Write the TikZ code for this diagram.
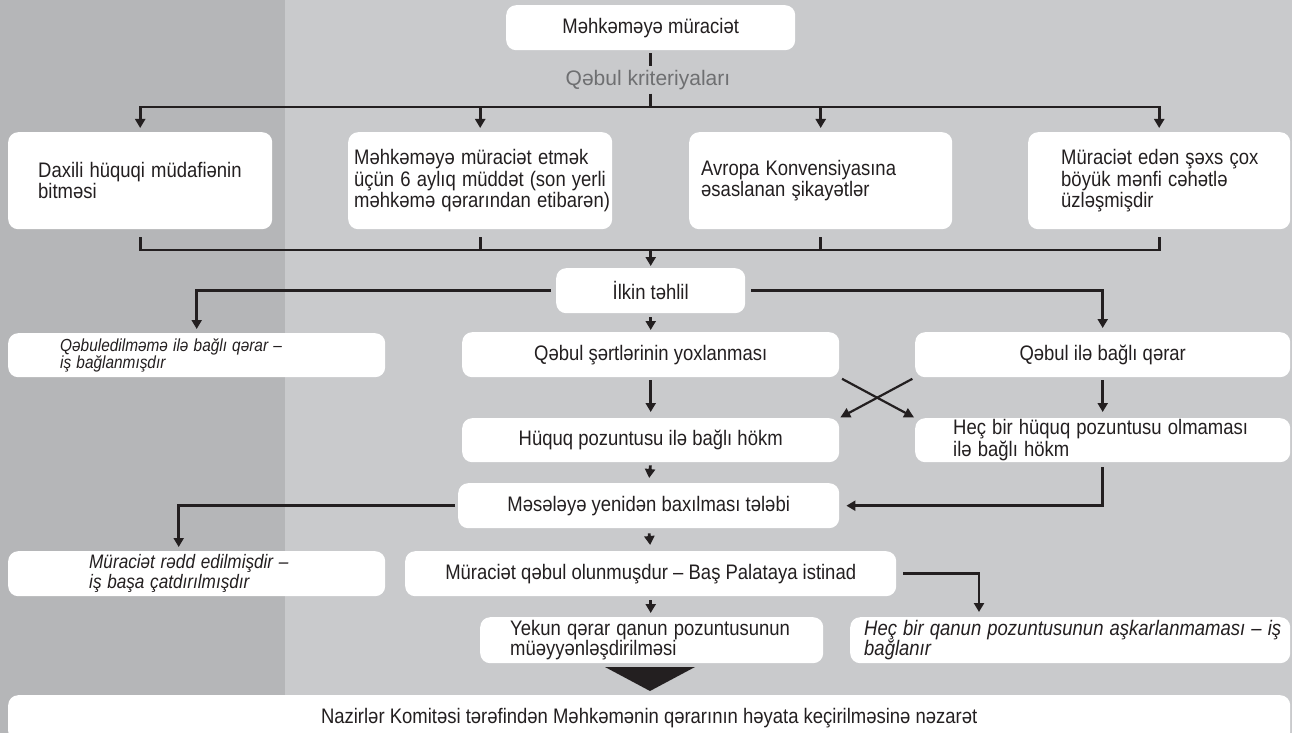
\documentclass[tikz,border=0pt]{standalone}
\usepackage{fontspec}
\usepackage{graphicx}
\setmainfont{Liberation Sans}
\usetikzlibrary{arrows.meta,calc}
\definecolor{darkbg}{RGB}{181,182,184}
\definecolor{lightbg}{RGB}{201,202,204}
\definecolor{ink}{RGB}{35,31,32}
\definecolor{labelgray}{RGB}{110,111,113}
\newcommand\lnbox[1]{\scalebox{0.88}[1]{#1}}
\begin{document}
\begin{tikzpicture}[x=1pt,y=-1pt,
  box/.style={fill=white, rounded corners=10pt, inner xsep=0pt, inner ysep=0pt, anchor=north west,
    font=\fontsize{21}{21.5}\selectfont, text=ink, align=center},
  lbox/.style={box, align=left},
  conn/.style={draw=ink, line width=2.8pt},
  arr/.style={conn, -{Triangle[width=10pt,length=9pt]}},
  darr/.style={conn, {Triangle[width=10pt,length=9pt]}-{Triangle[width=10pt,length=9pt]}},
  xarr/.style={draw=ink, line width=2.2pt, -{Triangle[width=10pt,length=10pt]}}
]
\useasboundingbox (0,0) rectangle (1292,733);
\fill[darkbg] (0,0) rectangle (285,733);
\fill[lightbg] (285,0) rectangle (1292,733);

% nodes
\node[box, minimum width=289pt, minimum height=45pt] (top) at (506,5) {\lnbox{Məhkəməyə müraciət}};
\node[inner sep=0pt, minimum height=27pt, text=labelgray, font=\fontsize{21}{22}\selectfont] (crit) at (648,80) {Qəbul kriteriyaları};

\node[lbox, minimum width=264pt, minimum height=97pt, text width=204pt] (c1) at (8,132)
  {\lnbox{Daxili hüquqi müdafiənin}\\\lnbox{bitməsi}};
\node[lbox, minimum width=264pt, minimum height=97pt, text width=252pt] (c2) at (348,132)
  {\lnbox{Məhkəməyə müraciət etmək}\\\lnbox{üçün 6 aylıq müddət (son yerli}\\\lnbox{məhkəmə qərarından etibarən)}};
\node[lbox, minimum width=263pt, minimum height=97pt, text width=239pt] (c3) at (689,132)
  {\lnbox{Avropa Konvensiyasına}\\\lnbox{əsaslanan şikayətlər}};
\node[lbox, minimum width=262pt, minimum height=97pt, text width=196pt] (c4) at (1028,132)
  {\lnbox{Müraciət edən şəxs çox}\\\lnbox{böyük mənfi cəhətlə}\\\lnbox{üzləşmişdir}};

\node[box, minimum width=189pt, minimum height=45pt] (ilkin) at (556,268) {\lnbox{İlkin təhlil}};

\node[lbox, minimum width=377pt, minimum height=44pt, text width=273pt, font=\fontsize{17.5}{17}\selectfont\itshape] (rej1) at (8,333)
  {\lnbox{Qəbuledilməmə ilə bağlı qərar –}\\\lnbox{iş bağlanmışdır}};
\node[box, minimum width=377pt, minimum height=45pt] (check) at (462,332) {\lnbox{Qəbul şərtlərinin yoxlanması}};
\node[box, minimum width=375pt, minimum height=45pt] (admd) at (915,332) {\lnbox{Qəbul ilə bağlı qərar}};

\node[box, minimum width=377pt, minimum height=44pt] (viol) at (462,418) {\lnbox{Hüquq pozuntusu ilə bağlı hökm}};
\node[lbox, minimum width=375pt, minimum height=44pt, text width=299pt] (noviol) at (915,418)
  {\lnbox{Heç bir hüquq pozuntusu olmaması}\\\lnbox{ilə bağlı hökm}};

\node[box, minimum width=381pt, minimum height=45pt] (req) at (458,483) {\lnbox{Məsələyə yenidən baxılması tələbi}};

\node[lbox, minimum width=377pt, minimum height=45pt, text width=215pt, font=\fontsize{19.5}{20}\selectfont\itshape] (rej2) at (8,551)
  {\lnbox{Müraciət rədd edilmişdir –}\\\lnbox{iş başa çatdırılmışdır}};
\node[box, minimum width=491pt, minimum height=45pt] (acc) at (405,551) {\lnbox{Müraciət qəbul olunmuşdur – Baş Palataya istinad}};

\node[lbox, minimum width=343pt, minimum height=46pt, text width=283pt, font=\fontsize{21}{20.5}\selectfont] (final) at (480,617)
  {\lnbox{Yekun qərar qanun pozuntusunun}\\\lnbox{müəyyənləşdirilməsi}};
\node[lbox, minimum width=440pt, minimum height=46pt, text width=412pt, font=\fontsize{21}{20.5}\selectfont\itshape] (nolaw) at (850,617)
  {\lnbox{Heç bir qanun pozuntusunun aşkarlanmaması – iş}\\\lnbox{bağlanır}};

\node[box, minimum width=1282pt, minimum height=46pt] (bottom) at (8,695)
  {\lnbox{Nazirlər Komitəsi tərəfindən Məhkəmənin qərarının həyata keçirilməsinə nəzarət}};

% connectors
\coordinate (hubT) at (top.south |- 0,107);
\coordinate (hubB) at (top.south |- 0,250);
\draw[conn, shorten <=3pt] (top.south) -- (top.south |- crit.north);
\draw[conn] (top.south |- crit.south) -- (hubT);
\draw[darr, shorten <=4pt, shorten >=4pt] (c1.north) -- (c1.north |- hubT) -- (c4.north |- hubT) -- (c4.north);
\draw[arr, shorten >=4pt] (c2.north |- hubT) -- (c2.north);
\draw[arr, shorten >=4pt] (c3.north |- hubT) -- (c3.north);

\draw[conn, shorten <=8pt, shorten >=8pt] (c1.south) -- (c1.south |- hubB) -- (c4.south |- hubB) -- (c4.south);
\draw[conn, shorten <=8pt] (c2.south) -- (c2.south |- hubB);
\draw[conn, shorten <=8pt] (c3.south) -- (c3.south |- hubB);
\draw[arr, shorten >=2pt] (hubB) -- (ilkin.north);

\draw[arr, shorten <=5pt, shorten >=4pt] (ilkin.west) -| (rej1.north);
\draw[arr, shorten <=6pt, shorten >=4pt] (ilkin.east) -| (admd.north);
\draw[arr, shorten <=4pt, shorten >=2pt] (ilkin.south) -- (check.north);

\draw[arr, shorten <=3pt, shorten >=6pt] (check.south) -- (viol.north);
\draw[arr, shorten <=3pt, shorten >=6pt] (admd.south) -- (noviol.north);
\draw[xarr, shorten <=3pt, shorten >=1pt] (check.south east) -- (noviol.north west);
\draw[xarr, shorten <=3pt, shorten >=1pt] (admd.south west) -- (viol.north east);

\draw[arr, shorten <=3pt, shorten >=5pt] (viol.south) -- (req.north);
\draw[arr, shorten <=5pt, shorten >=7pt] (noviol.south) |- (req.east);
\draw[arr, shorten <=3pt, shorten >=4pt] (req.west) -| ($(rej2.north)+(-18,0)$);
\draw[arr, shorten <=5pt, shorten >=6pt] (req.south) -- (acc.north);

\draw[arr, shorten <=7pt, shorten >=5pt] (acc.east) -| ($(nolaw.north west)+(129,0)$);
\draw[arr, shorten <=4pt, shorten >=4pt] (acc.south) -- (acc.south |- final.north);

\fill[ink] (605,667) -- (695,667) -- (650,691) -- cycle;
\end{tikzpicture}
\end{document}
